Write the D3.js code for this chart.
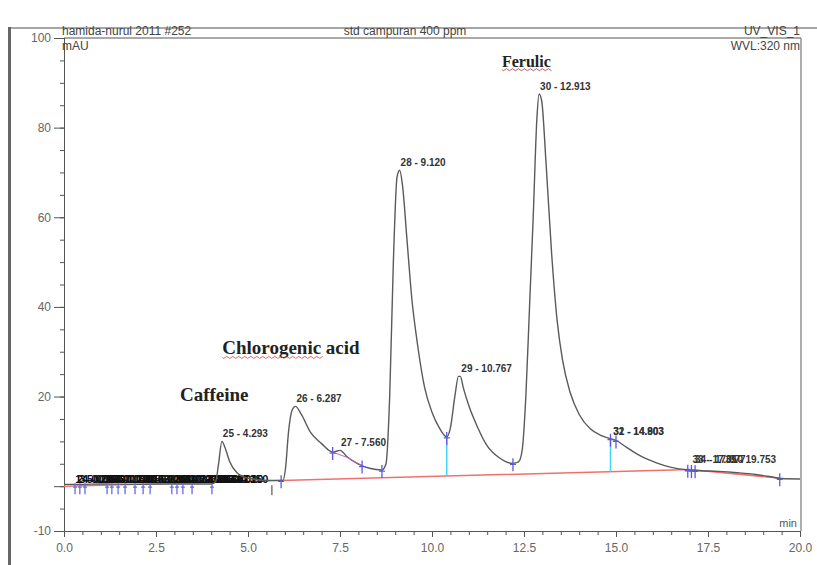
<!DOCTYPE html>
<html><head><meta charset="utf-8">
<script src="https://cdn.jsdelivr.net/npm/d3@7"></script>
<style>
body{margin:0;background:#fff;}
svg{display:block;font-family:"Liberation Sans",Arial,sans-serif;}
</style></head>
<body><svg id="c" width="817" height="565"></svg>
<script>
// ---- data (time in min, signal in mAU) ----
const traceTime = [0.0,0.5,1.0,2.0,3.0,4.0,4.12,4.2,4.29,4.38,4.5,4.7,4.9,5.2,5.6,5.95,6.02,6.1,6.2,6.29,6.45,6.7,7.0,7.3,7.5,7.7,8.0,8.3,8.64,8.75,8.85,8.95,9.05,9.12,9.2,9.32,9.45,9.6,9.8,10.0,10.2,10.4,10.5,10.62,10.72,10.77,10.85,11.0,11.22,11.5,11.8,12.0,12.2,12.35,12.45,12.55,12.65,12.75,12.85,12.91,12.98,13.1,13.25,13.4,13.55,13.75,14.0,14.3,14.6,14.85,15.0,15.3,15.65,16.1,16.5,16.9,17.2,17.8,18.3,18.8,19.2,19.5,20.0];
const traceSignal = [0.4,0.4,0.5,0.4,0.5,0.5,1.0,5,10,8.5,5.5,3,2,1.5,1.3,1.3,4,12,17,17.8,16,12,9.5,7.6,8.0,6.5,4.9,4.0,3.6,5,20,50,69,70.5,67,55,42,32,22,16.5,13,11,13,20,24.5,24.5,22,18,13.5,9,6.5,5.5,5.1,5.4,8,20,40,60,82,87.5,86,72,52,37,28,21,16,12.8,11.3,10.6,10.2,8.6,6.8,5.2,4.2,3.7,3.5,3.3,3.0,2.6,2.1,1.7,1.6];
const baselineTime = [0.0,17.0,19.45];
const baselineSignal = [0.0,3.7,1.8];

const peakLabels = ["25 - 4.293","26 - 6.287","27 - 7.560","28 - 9.120","29 - 10.767","30 - 12.913","31 - 14.803","32 - 14.903","33 - 17.010","34 - 17.077","35 - 19.753"];
const peakLabelTime = [4.29,6.29,7.5,9.12,10.77,12.91,14.9,14.9,17.05,17.12,17.95];
const peakLabelSignal = [10,17.8,8.0,70.5,24.5,87.5,10.6,10.6,4.2,4.2,4.2];

const smallPeakTime = [0.253,0.300,0.367,0.433,0.567,1.170,1.233,1.300,1.467,1.560,1.660,1.933,2.047,2.150,2.340,2.933,3.007,3.070,3.233,3.350,3.480,3.627,3.813,4.020,4.150];
const smallTickTime = [0.3,0.43,0.57,1.17,1.3,1.47,1.66,1.93,2.15,2.34,2.93,3.07,3.23,3.48,4.02];
const delimiterTime = [5.9,7.3,8.1,8.64,10.4,12.2,14.85,15.0,16.95,17.05,17.15,19.45];
const dropLineTime = [10.4,14.85];

const compoundNames = ["Caffeine","Chlorogenic acid","Ferulic"];
const compoundTime = [3.15,4.3,11.9];
const compoundSignal = [19.0,29.4,93.6];
const compoundSize = [19,19,16];

const xTicks = [0,2.5,5,7.5,10,12.5,15,17.5,20];
const yTicks = [-10,0,20,40,60,80,100];

// ---- drawing ----
const svg = d3.select("#c");
const x = d3.scaleLinear().domain([0,20]).range([64,800]);
const y = d3.scaleLinear().domain([-10,100]).range([531,38]);
const trace = traceTime.map((t,i)=>[t,traceSignal[i]]);
const lerpArr = (xs,ys,t) => {
  for(let i=1;i<xs.length;i++){ if(t<=xs[i]){const a=xs[i-1],b=xs[i];const f=(t-a)/(b-a);return ys[i-1]+f*(ys[i]-ys[i-1]);} }
  return ys[ys.length-1];
};
const interp = t => lerpArr(traceTime,traceSignal,t);
const baseAt = t => lerpArr(baselineTime,baselineSignal,t);

// outer frame
svg.append("line").attr("x1",8).attr("x2",817).attr("y1",28).attr("y2",28).attr("stroke","#888").attr("stroke-width",1.5);
svg.append("line").attr("x1",9.5).attr("x2",9.5).attr("y1",27).attr("y2",565).attr("stroke","#666").attr("stroke-width",3);

// plot border: top and right
svg.append("line").attr("x1",x(0)).attr("x2",x(20)+1).attr("y1",y(100)).attr("y2",y(100)).attr("stroke","#555");
svg.append("line").attr("x1",x(20)+1).attr("x2",x(20)+1).attr("y1",y(100)).attr("y2",y(-10)).attr("stroke","#777").attr("stroke-width",1.2);

// y axis
const gy = svg.append("g").attr("transform",`translate(${x(0)},0)`);
gy.call(d3.axisLeft(y).tickValues(d3.range(-10,101,5)).tickSize(4).tickFormat(""));
gy.append("g").call(d3.axisLeft(y).tickValues(yTicks).tickSize(10).tickFormat(d=>d===0?"":d));
gy.selectAll("path.domain").attr("stroke","#555");
gy.selectAll("line").attr("stroke","#555");
gy.selectAll("text").style("font-size","12px").style("font-family","Liberation Sans, Arial").attr("fill","#666");

// x axis
const gx = svg.append("g").attr("transform",`translate(0,${y(-10)})`);
gx.call(d3.axisBottom(x).tickValues(d3.range(0,20.01,0.5)).tickSize(4).tickFormat(""));
gx.append("g").call(d3.axisBottom(x).tickValues(xTicks).tickSize(6).tickFormat(d3.format(".1f")));
gx.selectAll("path.domain").attr("stroke","#555");
gx.selectAll("line").attr("stroke","#555");
gx.selectAll("text").style("font-size","12px").style("font-family","Liberation Sans, Arial").attr("fill","#666").attr("dy","1.0em");

// header texts
const hdr = (t,xx,yy,anchor)=>svg.append("text").attr("x",xx).attr("y",yy).attr("text-anchor",anchor).style("font-size","12px").attr("fill","#444").text(t);
hdr("hamida-nurul 2011 #252",62,35,"start");
hdr("std campuran 400 ppm",405,35,"middle");
hdr("UV_VIS_1",800,35,"end");
hdr("mAU",62,50,"start");
hdr("WVL:320 nm",800,50,"end");
svg.append("text").attr("x",797).attr("y",527).attr("text-anchor","end").style("font-size","11px").attr("fill","#555").text("min");

// baseline (red)
svg.append("path").datum(baselineTime.map((t,i)=>[t,baselineSignal[i]]))
  .attr("d",d3.line().x(d=>x(d[0])).y(d=>y(d[1])))
  .attr("fill","none").attr("stroke","#f07070").attr("stroke-width",1.5);

// drop lines (cyan)
svg.selectAll(".drop").data(dropLineTime).enter().append("line")
  .attr("x1",d=>x(d)).attr("x2",d=>x(d)).attr("y1",d=>y(interp(d))).attr("y2",d=>y(baseAt(d)))
  .attr("stroke","#40d8f0").attr("stroke-width",1.5);

// small peak labels (cluttered, as in the reference)
svg.selectAll(".sl").data(smallPeakTime).enter().append("text")
  .attr("x",d=>x(d)+2).attr("y",y(0.7)).style("font-size","11px").style("font-weight","bold").attr("fill","#111")
  .text((d,i)=>`${i+1} - ${d.toFixed(3)}`);

// trace
svg.append("path").datum(trace)
  .attr("d",d3.line().x(d=>x(d[0])).y(d=>y(d[1])).curve(d3.curveMonotoneX))
  .attr("fill","none").attr("stroke","#5a5a5a").attr("stroke-width",1.4);

// magenta skim segment at shoulder 27
svg.append("path").datum([[7.3,interp(7.3)],[7.7,6.4],[8.1,interp(8.1)]])
  .attr("d",d3.line().x(d=>x(d[0])).y(d=>y(d[1])))
  .attr("fill","none").attr("stroke","#c060d0").attr("stroke-width",1);

// small ticks at the start
svg.selectAll(".st").data(smallTickTime).enter().append("path")
  .attr("d",d=>{const px=x(d),py=y(0);return `M${px},${py-3}V${py+8}M${px-2},${py+1}H${px+2}`;})
  .attr("stroke","#6a6ae8").attr("stroke-width",1.3).attr("fill","none");
svg.append("line").attr("x1",x(5.65)).attr("x2",x(5.65)).attr("y1",y(0.2)).attr("y2",y(-2)).attr("stroke","#333");

// delimiter markers
svg.selectAll(".dm").data(delimiterTime).enter().append("path")
  .attr("d",d=>{const px=x(d),py=y(interp(d));return `M${px},${py-5}V${py+8}M${px-3},${py+1}H${px+3}`;})
  .attr("stroke","#5a5ae0").attr("stroke-width",1.3).attr("fill","none");

// peak labels
svg.selectAll(".pl").data(peakLabels).enter().append("text")
  .attr("x",(d,i)=>x(peakLabelTime[i])+1).attr("y",(d,i)=>y(peakLabelSignal[i])-4)
  .style("font-size","10px").style("font-weight","bold").attr("fill","#333").text(d=>d);

// compound names (serif bold)
svg.selectAll(".cn").data(compoundNames).enter().append("text")
  .attr("x",(d,i)=>x(compoundTime[i])).attr("y",(d,i)=>y(compoundSignal[i]))
  .style("font-family","'Liberation Serif','Times New Roman',serif").style("font-weight","bold")
  .style("font-size",(d,i)=>compoundSize[i]+"px").attr("fill","#222").text(d=>d);
// spell-check underline for Chlorogenic & Ferulic
[[1,102],[2,50]].forEach(([i,w])=>{
  const px=x(compoundTime[i]), py=y(compoundSignal[i])+3;
  let dstr=`M${px},${py}`;
  for(let k=0;k<w;k+=3){dstr+=`L${px+k+1.5},${py+(k/3%2?-1:1)}`;}
  svg.append("path").attr("d",dstr).attr("stroke",i===1?"#e04040":"#b03030").attr("fill","none").attr("stroke-width",0.8);
});
</script></body></html>
